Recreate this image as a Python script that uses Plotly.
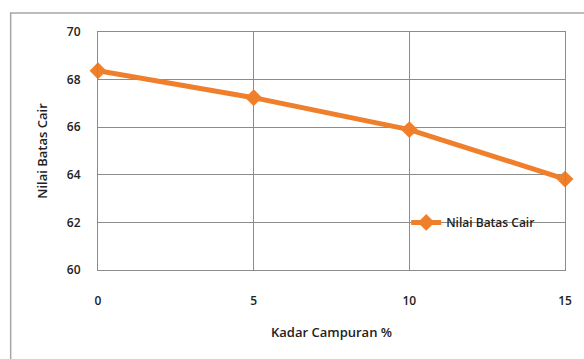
import plotly.graph_objects as go

# Liquid limit against admixture content
kadar_campuran = [0, 5, 10, 15]
nilai_batas_cair = [68.37, 67.24, 65.9, 63.82]
y_ticks = [60, 62, 64, 66, 68, 70]
x_ticks = [0, 5, 10, 15]

orange = "#F07F2C"
grid = "#8C8C8C"
font_family = "Open Sans, Liberation Sans, sans-serif"

fig = go.Figure()
fig.add_trace(go.Scatter(
    x=kadar_campuran,
    y=nilai_batas_cair,
    mode="lines+markers",
    name="Nilai Batas Cair",
    line=dict(color=orange, width=5),
    marker=dict(symbol="diamond", size=13, color=orange),
    cliponaxis=False,
))

fig.update_layout(
    width=584,
    height=359,
    margin=dict(l=98, r=16, t=32, b=89),
    paper_bgcolor="white",
    plot_bgcolor="white",
    font=dict(family=font_family, size=12, color="#222222", weight=600),
    showlegend=True,
    legend=dict(
        x=0.66, y=0.2, xanchor="left", yanchor="middle",
        bgcolor="rgba(0,0,0,0)", borderwidth=0,
        font=dict(size=12, color="#222222", weight=600),
        itemwidth=30,
    ),
    xaxis=dict(
        range=[0, 15], tickvals=x_ticks, ticks="",
        showgrid=True, gridcolor=grid, gridwidth=1,
        showline=True, linecolor=grid, linewidth=1, mirror=True,
        zeroline=False, ticklabelstandoff=20,
        tickfont=dict(size=12, weight=600),
        title=dict(text="Kadar Campuran %", font=dict(size=13, weight=600), standoff=19),
    ),
    yaxis=dict(
        range=[60, 70], tickvals=y_ticks, ticks="",
        showgrid=True, gridcolor=grid, gridwidth=1,
        showline=True, linecolor=grid, linewidth=1, mirror=True,
        zeroline=False, ticklabelstandoff=14,
        tickfont=dict(size=12, weight=600),
        title=dict(text="Nilai Batas Cair", font=dict(size=13, weight=600), standoff=16),
    ),
    shapes=[dict(
        type="rect", xref="paper", yref="paper",
        x0=-0.187, x1=1.2, y0=-0.6, y1=1.08,
        line=dict(color="#A6A6A6", width=1.5), fillcolor="rgba(0,0,0,0)",
        layer="below",
    )],
)

fig.write_html("out.html")
